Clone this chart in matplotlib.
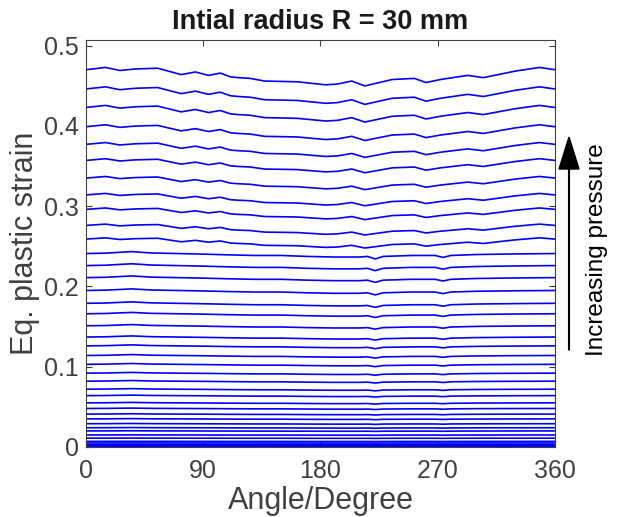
"""Eq. plastic strain around the circumference, R = 30 mm."""

import numpy as np
import matplotlib
matplotlib.use("Agg")
import matplotlib.pyplot as plt

# strain level of each curve at angle 0 (one curve per pressure step)
levels = [0.470, 0.446, 0.423, 0.399, 0.377, 0.357, 0.335, 0.314, 0.296,
          0.276, 0.259, 0.241, 0.226, 0.211, 0.195, 0.179, 0.166, 0.151,
          0.137, 0.126, 0.114, 0.103, 0.092, 0.082, 0.072, 0.064, 0.055,
          0.048, 0.041, 0.035, 0.029, 0.024, 0.020, 0.015, 0.011, 0.007,
          0.005, 0.003, 0.002, 0.001, 0.0]

# relative shape of the upper curves
angle_hi = [0, 15, 26, 38, 55, 73, 84, 94, 103, 111, 117, 126, 137, 162,
            184, 193, 204, 214, 235, 252, 261, 272, 293, 305, 329, 348, 360]
shape_hi = [1.000, 1.006, 0.998, 1.002, 1.004, 0.987, 0.994, 0.985, 0.991,
            0.981, 0.979, 0.977, 0.970, 0.968, 0.960, 0.962, 0.970, 0.957,
            0.974, 0.977, 0.966, 0.974, 0.985, 0.979, 0.996, 1.006, 1.000]

# relative shape of the lower curves
angle_lo = [0, 15, 35, 50, 70, 90, 110, 130, 150, 170, 190, 210, 216, 222,
            228, 250, 268, 274, 280, 300, 330, 360]
shape_lo = [1.000, 1.002, 1.010, 1.003, 1.000, 0.997, 0.993, 0.990, 0.990,
            0.985, 0.982, 0.982, 0.985, 0.972, 0.985, 0.990, 0.990, 0.980,
            0.990, 0.995, 0.998, 1.000]

x_ticks = [0, 90, 180, 270, 360]
y_ticks = [0, 0.1, 0.2, 0.3, 0.4, 0.5]

plt.rcParams["font.family"] = ["Liberation Sans", "DejaVu Sans"]
grey = "#404040"

fig = plt.figure(figsize=(6.21, 5.17), dpi=100)
ax = fig.add_axes([0.1385, 0.1354, 0.7552, 0.7872])

for lev in levels:
    if lev >= 0.25:
        ax.plot(angle_hi, lev * np.array(shape_hi), color="blue", lw=1.2)
    else:
        ax.plot(angle_lo, lev * np.array(shape_lo), color="blue", lw=1.2)

ax.set_xlim(0, 360)
ax.set_ylim(0, 0.507)
ax.set_xticks(x_ticks)
ax.set_yticks(y_ticks)
ax.set_yticklabels(["0", "0.1", "0.2", "0.3", "0.4", "0.5"])
ax.tick_params(direction="in", top=True, right=True, length=4, width=0.8,
               colors=grey, labelsize=18, pad=5)
ax.tick_params(axis="x", pad=9)
for sp in ax.spines.values():
    sp.set_color(grey)
    sp.set_linewidth(0.8)

ax.set_xlabel("Angle/Degree", fontsize=22, color=grey, labelpad=2)
ax.set_ylabel("Eq. plastic strain", fontsize=22, color=grey, labelpad=3)
ax.set_title("Intial radius R = 30 mm", fontsize=19.5, fontweight="bold",
             color="#1a1a1a", pad=8)

# pressure arrow and note to the right of the axes
fig.patches.append(matplotlib.patches.FancyArrow(
    569 / 621, 1 - 350 / 517, 0, (350 - 137) / 517, width=0.0012,
    head_width=20 / 621, head_length=32 / 517, length_includes_head=True,
    color="black", transform=fig.transFigure))
fig.text(597 / 621, 1 - 250 / 517, "Increasing pressure", rotation=90,
         fontsize=17.5, ha="center", va="center", color="black")

fig.savefig("out.png", dpi=100)
